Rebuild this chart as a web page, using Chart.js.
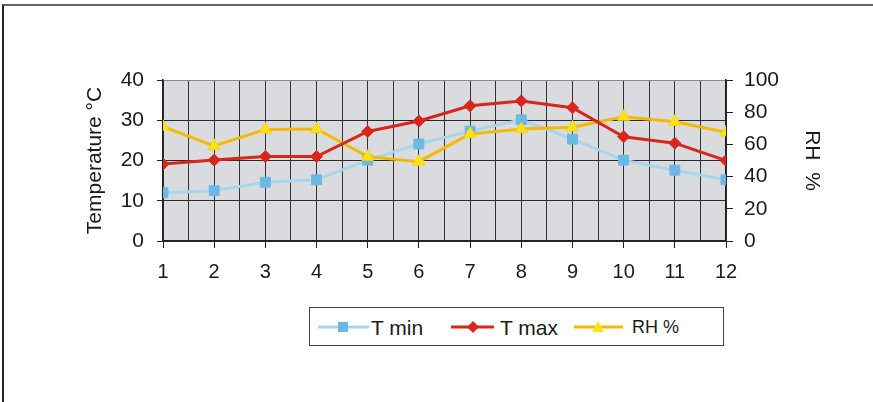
<!DOCTYPE html>
<html>
<head>
<meta charset="utf-8">
<script src="https://cdn.jsdelivr.net/npm/chart.js@4.4.1/dist/chart.umd.min.js"></script>
<style>
  html, body { margin: 0; padding: 0; background: #fff; width: 873px; height: 402px; overflow: hidden; }
  #frame { position: absolute; left: 2px; top: 4px; width: 900px; height: 420px; border-left: 2px solid #222; border-top: 2px solid #666; box-sizing: border-box; }
  #c { position: absolute; left: 0; top: 0; }
  #legend { position: absolute; left: 309px; top: 307px; width: 415px; height: 39px; border: 1px solid #444; box-sizing: border-box; background: #fff; font-family: "Liberation Sans", Arial, sans-serif; color: #1a1a1a; }
  #legend svg { position: absolute; left: 0; top: 0; }
  #legend span { position: absolute; top: 50%; transform: translateY(-50%); white-space: pre; line-height: 1; }
</style>
</head>
<body>
<div id="frame"></div>
<canvas id="c" width="873" height="402"></canvas>
<div id="legend">
  <svg width="415" height="39" id="legsvg"></svg>
  <span id="l0" style="left:61px;font-size:21px;"></span>
  <span id="l1" style="left:190px;font-size:21px;"></span>
  <span id="l2" style="left:322px;font-size:18px;"></span>
</div>
<script>
// ---- data ----
const months = [1, 2, 3, 4, 5, 6, 7, 8, 9, 10, 11, 12];
const tMin = [12.0, 12.5, 14.6, 15.2, 20.1, 24.1, 27.3, 30.1, 25.3, 20.1, 17.6, 15.2];
const tMax = [19.1, 20.1, 21.0, 21.0, 27.2, 29.8, 33.6, 34.8, 33.1, 25.9, 24.3, 20.0];
const rh   = [71, 59, 69.3, 69.6, 52.4, 49.3, 66.5, 69.6, 70.6, 77.2, 74.1, 67.5];
const seriesNames = ['T min', 'T max', 'RH %'];
const tempTicks = [0, 10, 20, 30, 40];
const rhTicks = [0, 20, 40, 60, 80, 100];
const leftTitle = 'Temperature °C';
const rightTitle = 'RH  %';

const FONT = '"Liberation Sans", Arial, sans-serif';
const TXT = '#1a1a1a';
const AX = '#222';

const pts = arr => months.map((m, i) => ({ x: m, y: arr[i] }));

const bgPlugin = {
  id: 'plotBg',
  beforeDraw(chart) {
    const { ctx, chartArea: a } = chart;
    ctx.save();
    ctx.fillStyle = '#d9dbde';
    ctx.fillRect(a.left, a.top, a.right - a.left, a.bottom - a.top);
    ctx.restore();
  }
};

new Chart(document.getElementById('c'), {
  type: 'line',
  data: {
    datasets: [
      {
        label: seriesNames[0], data: pts(tMin), yAxisID: 'y', order: 2,
        borderColor: '#a9d5ea', borderWidth: 3, pointStyle: 'rect', pointRadius: 7,
        pointBackgroundColor: '#6db7e5', pointBorderColor: '#6db7e5', pointBorderWidth: 1, tension: 0
      },
      {
        label: seriesNames[1], data: pts(tMax), yAxisID: 'y', order: 0,
        borderColor: '#d8261c', borderWidth: 3, pointStyle: 'rectRot', pointRadius: 6,
        pointBackgroundColor: '#d8261c', pointBorderColor: '#d8261c', pointBorderWidth: 1, tension: 0
      },
      {
        label: seriesNames[2], data: pts(rh), yAxisID: 'y1', order: 1,
        borderColor: '#f4b806', borderWidth: 3, pointStyle: 'triangle', pointRadius: 7,
        pointBackgroundColor: '#ffe31a', pointBorderColor: '#ffd400', pointBorderWidth: 1, tension: 0
      }
    ]
  },
  options: {
    responsive: false,
    animation: false,
    devicePixelRatio: 1,
    layout: { padding: { top: 80, left: 0, right: 0, bottom: 0 } },
    plugins: { legend: { display: false }, tooltip: { enabled: false } },
    scales: {
      x: {
        type: 'linear', min: 1, max: 12,
        afterFit(s) { s.height = 161; },
        afterBuildTicks(s) { s.ticks = []; for (let v = 1; v <= 12.001; v += 0.5) s.ticks.push({ value: v }); },
        ticks: {
          autoSkip: false, maxRotation: 0, padding: 12, color: TXT,
          font: { family: FONT, size: 20 },
          callback: v => Number.isInteger(v) && months.includes(v) ? String(v) : ''
        },
        grid: {
          color: '#333', lineWidth: 1, tickLength: 7,
          tickColor: c => (c.tick && Number.isInteger(c.tick.value)) ? AX : 'rgba(0,0,0,0)'
        },
        border: { display: true, color: AX, width: 1.5 }
      },
      y: {
        position: 'left', min: 0, max: 40,
        afterFit(s) { s.width = 163; },
        afterBuildTicks(s) { s.ticks = tempTicks.map(v => ({ value: v })); },
        ticks: { padding: 13, color: TXT, font: { family: FONT, size: 21 } },
        grid: {
          color: c => (c.tick && c.tick.value === 40) ? '#8a8a8a' : '#2a2a2a',
          tickColor: AX, lineWidth: 1, tickLength: 6
        },
        border: { display: true, color: AX, width: 1.5 },
        title: { display: true, text: leftTitle, color: TXT, font: { family: FONT, size: 21 }, padding: { top: 83, bottom: 0 } }
      },
      y1: {
        position: 'right', min: 0, max: 100,
        afterFit(s) { s.width = 147; },
        afterBuildTicks(s) { s.ticks = rhTicks.map(v => ({ value: v })); },
        ticks: { padding: 11, color: TXT, font: { family: FONT, size: 21 } },
        grid: { drawOnChartArea: false, tickColor: AX, tickLength: 7, lineWidth: 1 },
        border: { display: true, color: AX, width: 1.5 },
        title: { display: true, text: rightTitle, color: TXT, font: { family: FONT, size: 21 }, padding: { top: 49, bottom: 0 } }
      }
    }
  },
  plugins: [bgPlugin]
});

// ---- legend (real text) ----
document.getElementById('l0').textContent = seriesNames[0];
document.getElementById('l1').textContent = seriesNames[1];
document.getElementById('l2').textContent = seriesNames[2];
const svg = document.getElementById('legsvg');
svg.innerHTML =
  '<line x1="8" y1="19" x2="59" y2="19" stroke="#a9d5ea" stroke-width="3"/>' +
  '<rect x="28" y="14" width="10" height="10" fill="#6db7e5"/>' +
  '<line x1="141" y1="19" x2="184" y2="19" stroke="#d8261c" stroke-width="3"/>' +
  '<polygon points="163,13 169,19 163,25 157,19" fill="#d8261c"/>' +
  '<line x1="264" y1="19" x2="313" y2="19" stroke="#f4b806" stroke-width="3"/>' +
  '<polygon points="288,13 294,24 282,24" fill="#ffe31a"/>';
</script>
</body>
</html>
